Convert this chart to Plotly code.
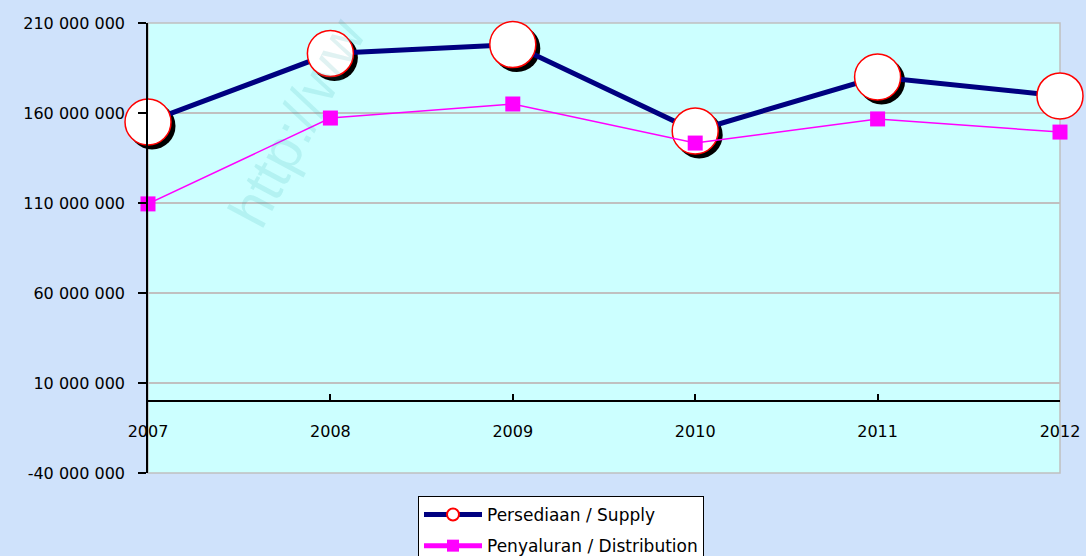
import plotly.graph_objects as go

years = [2007, 2008, 2009, 2010, 2011, 2012]
supply = [155_000_000, 193_000_000, 198_000_000, 150_000_000, 180_000_000, 169_500_000]
distribution = [109_500_000, 157_200_000, 165_000_000, 143_300_000, 156_700_000, 149_400_000]
y_ticks = [-40_000_000, 10_000_000, 60_000_000, 110_000_000, 160_000_000, 210_000_000]
y_tick_labels = ["-40 000 000", "10 000 000", "60 000 000", "110 000 000", "160 000 000", "210 000 000"]
x_tick_labels = ["2007", "2008", "2009", "2010", "2011", "2012"]
series_names = ["Persediaan / Supply", "Penyaluran / Distribution"]
watermark = "http://ww"

W, H = 1086, 556
ml, mr, mt, mb = 148, 26, 23, 83
pw = W - ml - mr
ph = H - mt - mb
x_range = [2007, 2012]
y_range = [-40_000_000, 210_000_000]

# shadow offset in pixels -> axis range shift
sx, sy = 4, 4
dx = sx * (x_range[1] - x_range[0]) / pw
dy = sy * (y_range[1] - y_range[0]) / ph

font = dict(family="DejaVu Sans, Arial, sans-serif", size=16, color="black")
legend_font = dict(family="DejaVu Sans, Arial, sans-serif", size=17, color="black")

fig = go.Figure()

# shadow of supply circles (base hidden axes, shifted range)
fig.add_trace(go.Scatter(
    x=years, y=supply, mode="markers", xaxis="x", yaxis="y",
    marker=dict(symbol="circle", size=47, color="black", line=dict(width=0)),
    showlegend=False, hoverinfo="skip", cliponaxis=False,
))

fig.add_trace(go.Scatter(
    x=years, y=supply, mode="lines+markers", name=series_names[0],
    xaxis="x2", yaxis="y2", legendgroup="a",
    line=dict(color="#000080", width=5),
    marker=dict(symbol="circle", size=46, color="white", line=dict(color="#ff0000", width=1.5)),
    cliponaxis=False,
))
fig.add_trace(go.Scatter(
    x=years, y=distribution, mode="lines+markers", name=series_names[1],
    xaxis="x2", yaxis="y2", legendgroup="b",
    line=dict(color="#ff00ff", width=1.5),
    marker=dict(symbol="square", size=15, color="#ff00ff", line=dict(width=0)),
    cliponaxis=False,
))

fig.update_layout(
    width=W, height=H,
    margin=dict(l=ml, r=mr, t=mt, b=mb, autoexpand=False),
    paper_bgcolor="#cfe2fb",
    plot_bgcolor="#ccffff",
    font=font,
    showlegend=True,
    legend=dict(
        xref="container", yref="container",
        x=418 / W, xanchor="left",
        y=1 - 496 / H, yanchor="top",
        bgcolor="white", bordercolor="black", borderwidth=1,
        font=legend_font, itemwidth=58, itemsizing="constant",
        tracegroupgap=6,
    ),
    xaxis=dict(range=[x_range[0] - dx, x_range[1] - dx], visible=False, domain=[0, 1], anchor="y"),
    yaxis=dict(range=[y_range[0] + dy, y_range[1] + dy], visible=False, domain=[0, 1], anchor="x"),
    xaxis2=dict(
        range=x_range, overlaying="x", anchor="free",
        position=(0 - y_range[0]) / (y_range[1] - y_range[0]),
        tickvals=years, ticktext=x_tick_labels,
        showgrid=False, zeroline=False,
        showline=True, linecolor="black", linewidth=1.5,
        ticks="inside", ticklen=6, tickcolor="black", tickwidth=1.5,
        ticklabelstandoff=16, tickfont=font,
    ),
    yaxis2=dict(
        range=y_range, overlaying="y", anchor="x2", side="left",
        tickvals=y_ticks, ticktext=y_tick_labels,
        showgrid=True, gridcolor="#c0c0c0", gridwidth=1.5,
        zeroline=False,
        showline=True, linecolor="black", linewidth=1.5,
        ticks="outside", ticklen=8, tickcolor="black", tickwidth=1.5,
        ticklabelstandoff=10, tickfont=font,
    ),
    shapes=[dict(type="rect", xref="paper", yref="paper", x0=0, x1=1, y0=0, y1=1,
                 line=dict(color="#c0c0c0", width=1.5), layer="below")],
    annotations=[dict(
        text=watermark, xref="paper", yref="paper",
        x=(297 - ml) / pw, y=(mt + ph - 122) / ph,
        xanchor="center", yanchor="middle",
        showarrow=False, textangle=-62,
        font=dict(family="Liberation Sans, Arial, sans-serif", size=57, color="rgba(0,150,150,0.12)"),
    )],
)

fig.write_html("out.html", config={"displayModeBar": False},
               post_script="document.body.style.margin='0';")
